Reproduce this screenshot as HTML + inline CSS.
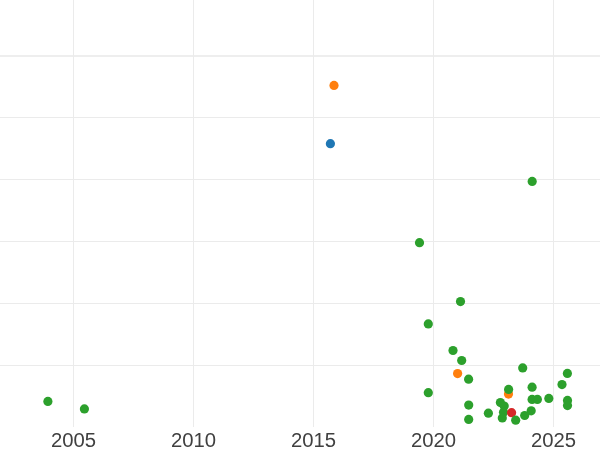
<!DOCTYPE html>
<html><head><meta charset="utf-8"><style>
html,body{margin:0;padding:0;background:#fff;width:600px;height:450px;overflow:hidden}
svg{display:block;position:absolute;left:0;top:0}
#lbs{position:absolute;left:0;top:0;width:600px;height:450px;will-change:transform}
.lb{position:absolute;top:429px;width:80px;text-align:center;font-family:"Liberation Sans",sans-serif;font-size:19.3px;line-height:23px;color:#404040;transform:translateX(0.5px) scaleX(1.052)}
</style></head><body>
<svg width="600" height="450" viewBox="0 0 600 450">
<rect width="600" height="450" fill="#fff"/>
<g shape-rendering="crispEdges" fill="#ebebeb"><rect x="73" y="0" width="1" height="427"/><rect x="193" y="0" width="1" height="427"/><rect x="313" y="0" width="1" height="427"/><rect x="433" y="0" width="1" height="427"/><rect x="553" y="0" width="1" height="427"/><rect x="0" y="117" width="600" height="1"/><rect x="0" y="179" width="600" height="1"/><rect x="0" y="241" width="600" height="1"/><rect x="0" y="303" width="600" height="1"/><rect x="0" y="365" width="600" height="1"/><rect x="0" y="55" width="600" height="2" fill="#eeeeee"/><rect x="73" y="55" width="1" height="2"/><rect x="193" y="55" width="1" height="2"/><rect x="313" y="55" width="1" height="2"/><rect x="433" y="55" width="1" height="2"/><rect x="553" y="55" width="1" height="2"/></g>
<g><circle cx="334.0" cy="85.4" r="4.6" fill="#ff7f0e"/><circle cx="457.6" cy="373.6" r="4.6" fill="#ff7f0e"/><circle cx="508.5" cy="394.1" r="4.6" fill="#ff7f0e"/><circle cx="330.4" cy="143.7" r="4.6" fill="#1f77b4"/><circle cx="532.2" cy="181.4" r="4.6" fill="#2ca02c"/><circle cx="419.5" cy="242.7" r="4.6" fill="#2ca02c"/><circle cx="460.5" cy="301.6" r="4.6" fill="#2ca02c"/><circle cx="428.3" cy="323.9" r="4.6" fill="#2ca02c"/><circle cx="453.0" cy="350.5" r="4.6" fill="#2ca02c"/><circle cx="461.7" cy="360.5" r="4.6" fill="#2ca02c"/><circle cx="468.6" cy="379.2" r="4.6" fill="#2ca02c"/><circle cx="428.3" cy="392.7" r="4.6" fill="#2ca02c"/><circle cx="468.7" cy="405.1" r="4.6" fill="#2ca02c"/><circle cx="468.7" cy="419.4" r="4.6" fill="#2ca02c"/><circle cx="488.4" cy="413.2" r="4.6" fill="#2ca02c"/><circle cx="508.6" cy="389.4" r="4.6" fill="#2ca02c"/><circle cx="500.4" cy="402.6" r="4.6" fill="#2ca02c"/><circle cx="504.2" cy="406.1" r="4.6" fill="#2ca02c"/><circle cx="503.5" cy="412.3" r="4.6" fill="#2ca02c"/><circle cx="502.3" cy="418.0" r="4.6" fill="#2ca02c"/><circle cx="524.7" cy="415.5" r="4.6" fill="#2ca02c"/><circle cx="531.2" cy="410.8" r="4.6" fill="#2ca02c"/><circle cx="532.1" cy="387.2" r="4.6" fill="#2ca02c"/><circle cx="532.1" cy="399.4" r="4.6" fill="#2ca02c"/><circle cx="537.4" cy="399.4" r="4.6" fill="#2ca02c"/><circle cx="548.8" cy="398.4" r="4.6" fill="#2ca02c"/><circle cx="562.0" cy="384.6" r="4.6" fill="#2ca02c"/><circle cx="567.4" cy="373.4" r="4.6" fill="#2ca02c"/><circle cx="567.5" cy="400.4" r="4.6" fill="#2ca02c"/><circle cx="567.5" cy="405.6" r="4.6" fill="#2ca02c"/><circle cx="522.7" cy="367.9" r="4.6" fill="#2ca02c"/><circle cx="47.9" cy="401.4" r="4.6" fill="#2ca02c"/><circle cx="84.4" cy="408.9" r="4.6" fill="#2ca02c"/><circle cx="511.6" cy="412.7" r="4.6" fill="#d62728"/><circle cx="515.7" cy="420.2" r="4.6" fill="#2ca02c"/></g>

</svg>
<div id="lbs"><div class="lb" style="left:32.9px">2005</div><div class="lb" style="left:152.9px">2010</div><div class="lb" style="left:272.9px">2015</div><div class="lb" style="left:392.9px">2020</div><div class="lb" style="left:512.9px">2025</div></div>
</body></html>
